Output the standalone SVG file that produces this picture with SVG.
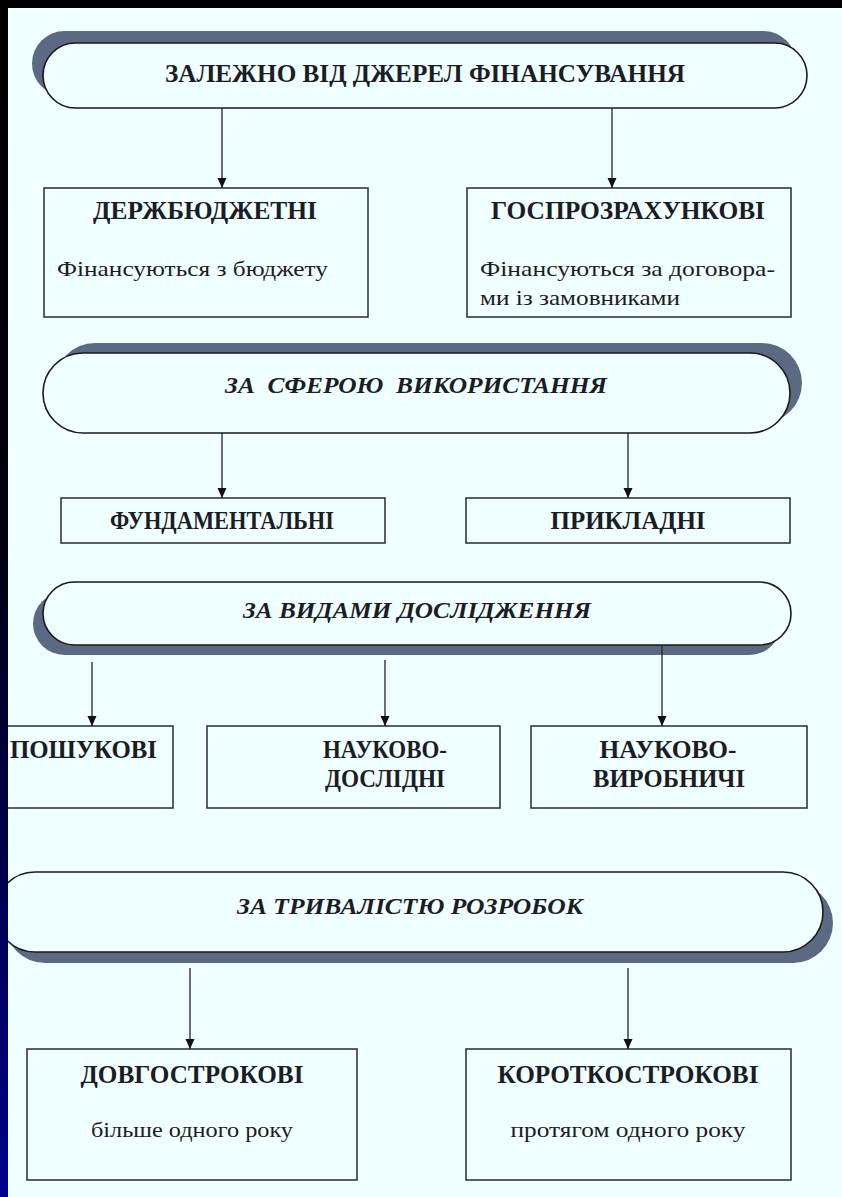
<svg xmlns="http://www.w3.org/2000/svg" width="842" height="1197" viewBox="0 0 842 1197">
<defs>
<linearGradient id="edge" x1="0" y1="0" x2="0" y2="1">
<stop offset="0" stop-color="#000000"/>
<stop offset="0.45" stop-color="#000010"/>
<stop offset="1" stop-color="#00008c"/>
</linearGradient>
<marker id="ah" viewBox="0 0 10 10" refX="10" refY="5" markerWidth="10" markerHeight="10" markerUnits="userSpaceOnUse" orient="auto">
<path d="M0,0.5 L10,5 L0,9.5 Z" fill="#111"/>
</marker>
<style>
.shadow{fill:#5b6a82}
.pill{fill:#f0ffff;stroke:#1a1a1a;stroke-width:1.6}
.box{fill:#f0ffff;stroke:#333840;stroke-width:1.6}
.conn line{stroke:#222;stroke-width:1.3;marker-end:url(#ah)}
text{fill:#1c1c24}
.b{font-weight:bold;font-size:25px}
.bi{font-weight:bold;font-style:italic;font-size:24px}
.r{font-size:21px}
</style>
</defs>
<rect x="0" y="0" width="842" height="1197" fill="#f0ffff"/>
<g font-family="Liberation Serif, serif">
<g id="pill1">
<rect class="shadow" x="32" y="31" width="764" height="65" rx="32.5"/>
<rect class="pill" x="43" y="43" width="764" height="65" rx="32.5"/>
<text class="b" x="425" y="82" text-anchor="middle" textLength="520" lengthAdjust="spacingAndGlyphs">ЗАЛЕЖНО ВІД ДЖЕРЕЛ ФІНАНСУВАННЯ</text>
</g>

<g id="box-derzh">
<rect class="box" x="44" y="188" width="324" height="129"/>
<text class="b" x="205" y="219" text-anchor="middle" textLength="224" lengthAdjust="spacingAndGlyphs">ДЕРЖБЮДЖЕТНІ</text>
<text class="r" x="57" y="276" textLength="271" lengthAdjust="spacingAndGlyphs">Фінансуються з бюджету</text>
</g>

<g id="box-gosp">
<rect class="box" x="467" y="188" width="324" height="129"/>
<text class="b" x="628" y="219" text-anchor="middle" textLength="274" lengthAdjust="spacingAndGlyphs">ГОСПРОЗРАХУНКОВІ</text>
<text class="r" x="480" y="276" textLength="295" lengthAdjust="spacingAndGlyphs">Фінансуються за договора-</text>
<text class="r" x="480" y="305" textLength="200" lengthAdjust="spacingAndGlyphs">ми із замовниками</text>
</g>

<g id="pill2">
<rect class="shadow" x="55" y="343" width="747" height="80" rx="40"/>
<rect class="pill" x="43" y="353" width="747" height="80" rx="40"/>
<text class="bi" x="416" y="393" text-anchor="middle" textLength="382" lengthAdjust="spacingAndGlyphs" xml:space="preserve">ЗА  СФЕРОЮ  ВИКОРИСТАННЯ</text>
</g>

<g id="box-fund">
<rect class="box" x="61" y="498" width="324" height="45"/>
<text class="b" x="222" y="529" text-anchor="middle" textLength="224" lengthAdjust="spacingAndGlyphs">ФУНДАМЕНТАЛЬНІ</text>
</g>

<g id="box-prykl">
<rect class="box" x="466" y="498" width="324" height="45"/>
<text class="b" x="628" y="529" text-anchor="middle" textLength="155" lengthAdjust="spacingAndGlyphs">ПРИКЛАДНІ</text>
</g>

<g id="pill3">
<rect class="shadow" x="33" y="592" width="748" height="63" rx="31.5"/>
<rect class="pill" x="43" y="582" width="748" height="63" rx="31.5"/>
<text class="bi" x="417" y="618" text-anchor="middle" textLength="348" lengthAdjust="spacingAndGlyphs">ЗА ВИДАМИ ДОСЛІДЖЕННЯ</text>
</g>

<g id="box-poshuk">
<rect class="box" x="-4" y="726" width="177" height="82"/>
<text class="b" x="10" y="758" textLength="147" lengthAdjust="spacingAndGlyphs">ПОШУКОВІ</text>
</g>

<g id="box-nd">
<rect class="box" x="207" y="726" width="293" height="82"/>
<text class="b" x="385" y="758" text-anchor="middle" textLength="124" lengthAdjust="spacingAndGlyphs">НАУКОВО-</text>
<text class="b" x="385" y="787" text-anchor="middle" textLength="120" lengthAdjust="spacingAndGlyphs">ДОСЛІДНІ</text>
</g>

<g id="box-nv">
<rect class="box" x="531" y="726" width="276" height="82"/>
<text class="b" x="668" y="758" text-anchor="middle" textLength="137" lengthAdjust="spacingAndGlyphs">НАУКОВО-</text>
<text class="b" x="669" y="787" text-anchor="middle" textLength="152" lengthAdjust="spacingAndGlyphs">ВИРОБНИЧІ</text>
</g>

<g id="pill4">
<rect class="shadow" x="5" y="883" width="828" height="80" rx="40"/>
<rect class="pill" x="-5" y="872" width="828" height="80" rx="40"/>
<text class="bi" x="410" y="914" text-anchor="middle" textLength="346" lengthAdjust="spacingAndGlyphs">ЗА ТРИВАЛІСТЮ РОЗРОБОК</text>
</g>

<g id="box-dovg">
<rect class="box" x="27" y="1049" width="330" height="131"/>
<text class="b" x="192" y="1083" text-anchor="middle" textLength="223" lengthAdjust="spacingAndGlyphs">ДОВГОСТРОКОВІ</text>
<text class="r" x="192" y="1137" text-anchor="middle" textLength="202" lengthAdjust="spacingAndGlyphs">більше одного року</text>
</g>

<g id="box-korot">
<rect class="box" x="466" y="1049" width="325" height="131"/>
<text class="b" x="628" y="1083" text-anchor="middle" textLength="261" lengthAdjust="spacingAndGlyphs">КОРОТКОСТРОКОВІ</text>
<text class="r" x="628" y="1137" text-anchor="middle" textLength="235" lengthAdjust="spacingAndGlyphs">протягом одного року</text>
</g>
</g>
<g id="connectors" class="conn">
<line x1="222" y1="108" x2="222" y2="188"/>
<line x1="612" y1="108" x2="612" y2="188"/>
<line x1="222" y1="433" x2="222" y2="498"/>
<line x1="628" y1="433" x2="628" y2="498"/>
<line x1="92" y1="662" x2="92" y2="726"/>
<line x1="385" y1="660" x2="385" y2="726"/>
<line x1="662" y1="645" x2="662" y2="726"/>
<line x1="190" y1="968" x2="190" y2="1049"/>
<line x1="628" y1="968" x2="628" y2="1049"/>
</g>

<rect x="0" y="0" width="842" height="8" fill="#000"/>
<rect x="0" y="0" width="8" height="1197" fill="url(#edge)"/>
</svg>
